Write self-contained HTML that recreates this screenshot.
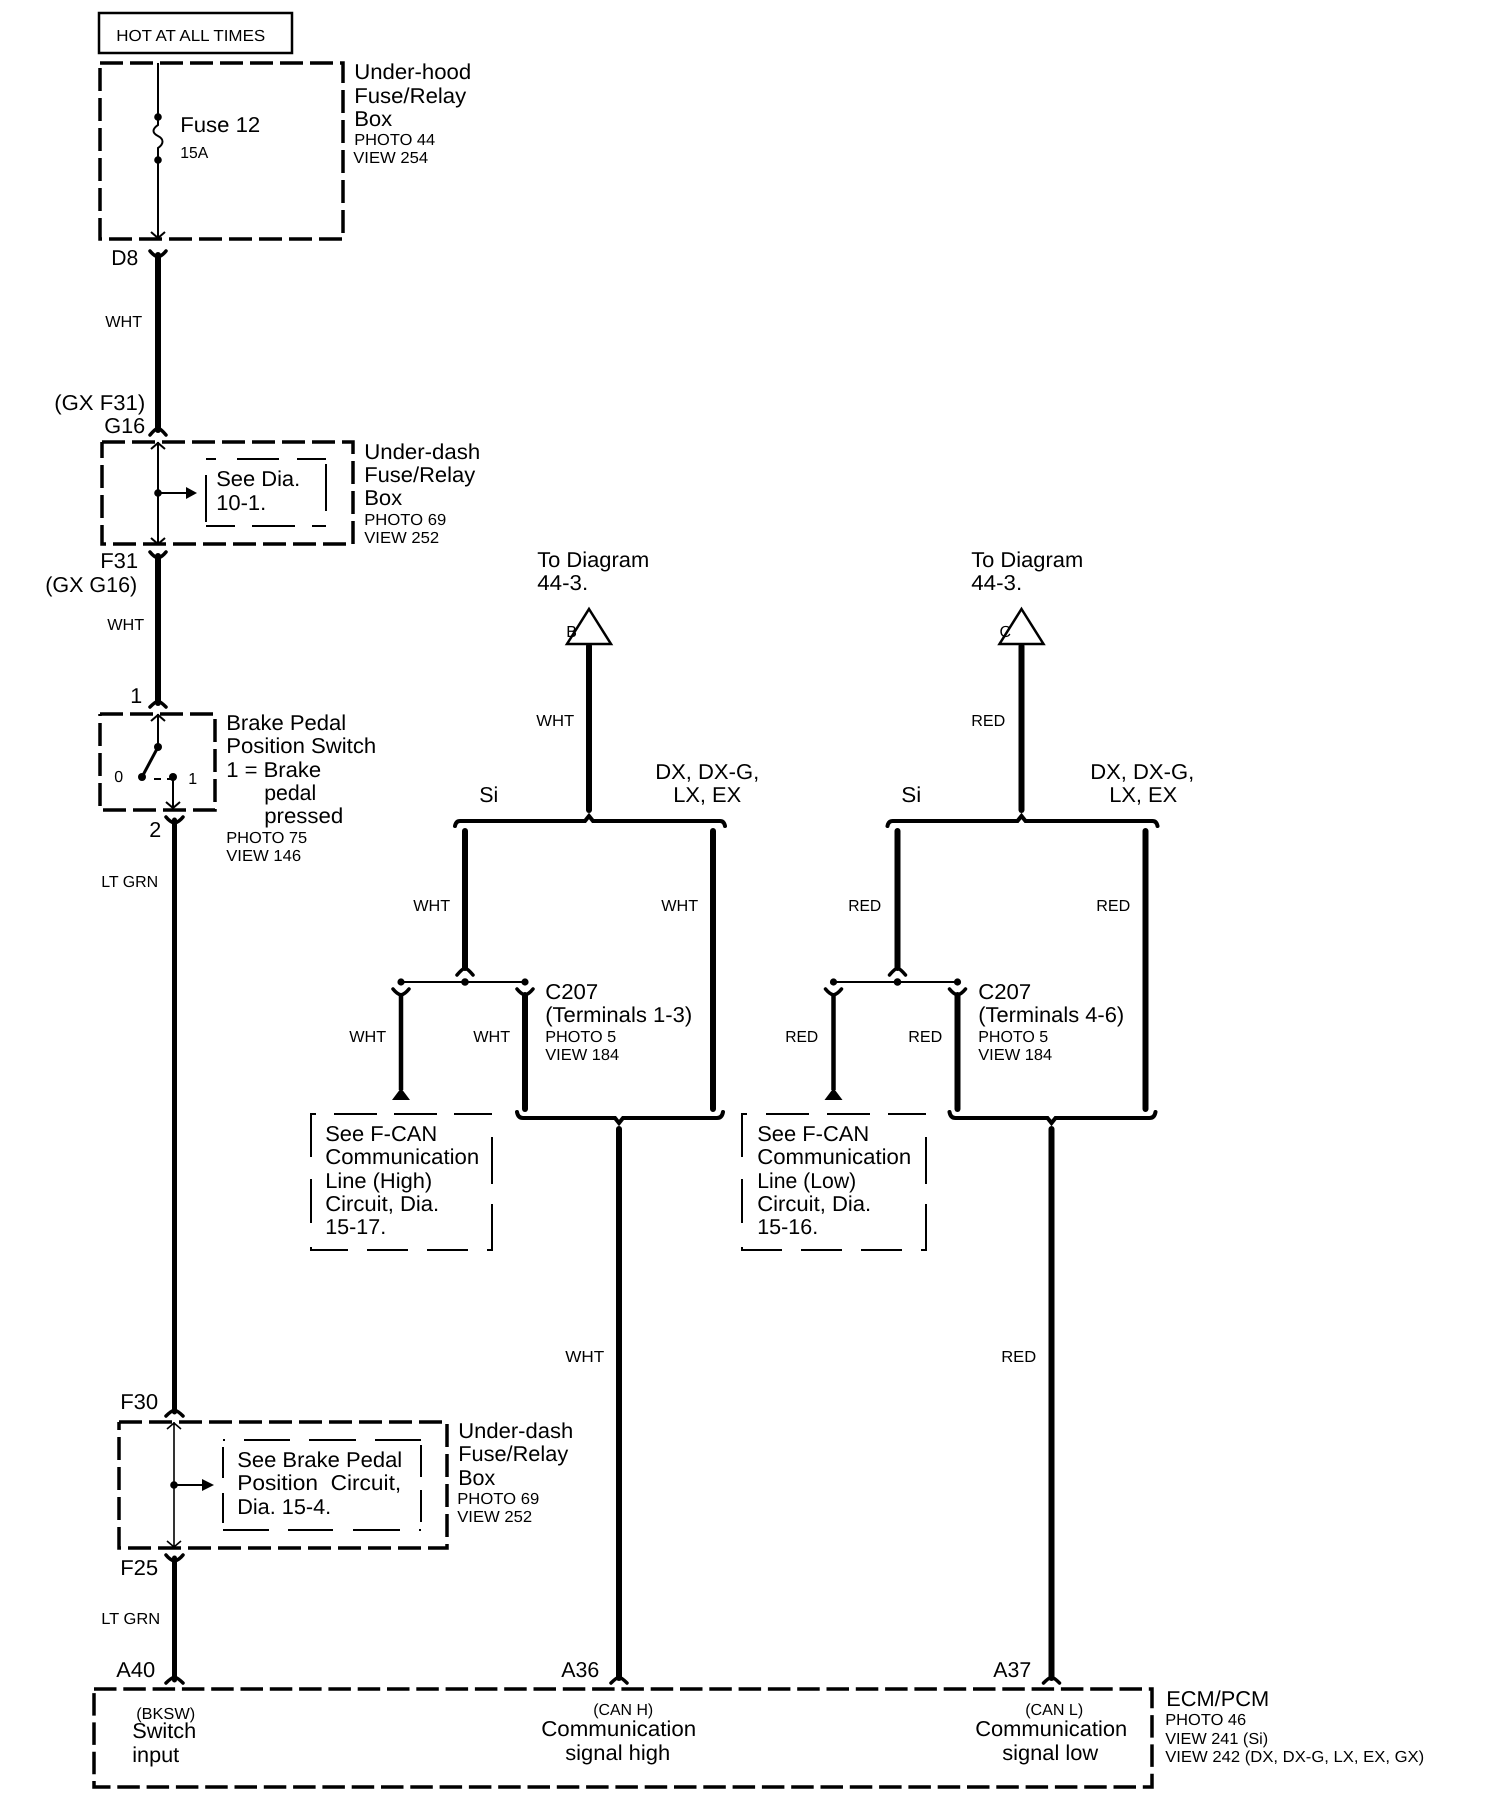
<!DOCTYPE html>
<html><head><meta charset="utf-8"><style>
html,body{margin:0;padding:0;background:#fff}
svg{display:block}
text{font-family:"Liberation Sans",sans-serif;fill:#000;text-rendering:geometricPrecision;transform:translateX(-0.8px)}
.b{font-size:21.5px}.s{font-size:16px}
.d{fill:none;stroke:#000;stroke-width:3.5;stroke-dasharray:23 7}
.i{fill:none;stroke:#000;stroke-width:2}
.t{fill:none;stroke:#000;stroke-width:2}
.w{fill:none;stroke:#000;stroke-width:6;stroke-linecap:round}
.f{fill:none;stroke:#000;stroke-width:3.5;stroke-linecap:round}
</style></head><body>
<svg width="1504" height="1808" viewBox="0 0 1504 1808" xmlns="http://www.w3.org/2000/svg">
<rect width="1504" height="1808" fill="#fff"/>
<rect x="99" y="13" width="193" height="40" fill="none" stroke="#000" stroke-width="2.5"/>
<text class="s" x="117" y="41" font-size="17" textLength="149" lengthAdjust="spacingAndGlyphs">HOT AT ALL TIMES</text>
<path class="d" d="M100 63H343V239H100V63"/>
<path class="t" d="M158 63V117M158 160V237M158 117v8c-6 4-6 8 0 11c6 3 6 8 0 12v12M151 232L158 238L165 232"/>
<circle cx="158" cy="117" r="3.8"/><circle cx="158" cy="160" r="3.8"/>
<text class="b" x="181" y="132" textLength="80" lengthAdjust="spacingAndGlyphs">Fuse 12</text>
<text class="s" x="181" y="158" textLength="28" lengthAdjust="spacingAndGlyphs">15A</text>
<text class="b" x="355" y="79" textLength="117" lengthAdjust="spacingAndGlyphs">Under-hood</text>
<text class="b" x="355" y="103" textLength="112" lengthAdjust="spacingAndGlyphs">Fuse/Relay</text>
<text class="b" x="355" y="126" textLength="38" lengthAdjust="spacingAndGlyphs">Box</text>
<text class="s" x="355" y="145" textLength="81" lengthAdjust="spacingAndGlyphs">PHOTO 44</text>
<text class="s" x="354" y="163" textLength="75" lengthAdjust="spacingAndGlyphs">VIEW 254</text>

<path class="w" d="M158 255V430"/>
<path class="f" d="M150 251Q154 256 158 257Q162 256 166 251M150 435Q155 429 158 428Q161 429 166 435"/>
<text class="b" x="112" y="265" textLength="27" lengthAdjust="spacingAndGlyphs">D8</text>
<text class="s" x="106" y="327" textLength="37" lengthAdjust="spacingAndGlyphs">WHT</text>
<text class="b" x="55" y="410" textLength="91" lengthAdjust="spacingAndGlyphs">(GX F31)</text>
<text class="b" x="105" y="433" textLength="41" lengthAdjust="spacingAndGlyphs">G16</text>

<path class="d" d="M102 442H353V544H102V442"/>
<path class="t" d="M158 442V544M151 449L158 443L165 449M151 538L158 544L165 538M158 493H187"/>
<circle cx="158" cy="493" r="3.8"/><path d="M186 487L197 493L186 499Z"/>
<path class="i" d="M206 459H216M237 459H279M297 459H326M326 464V511M206 475V522M206 526H235M252 526H295M312 526H326"/>
<text class="b" x="217" y="486" textLength="84" lengthAdjust="spacingAndGlyphs">See Dia.</text>
<text class="b" x="217" y="510" textLength="50" lengthAdjust="spacingAndGlyphs">10-1.</text>
<text class="b" x="365" y="459" textLength="116" lengthAdjust="spacingAndGlyphs">Under-dash</text>
<text class="b" x="365" y="482" textLength="111" lengthAdjust="spacingAndGlyphs">Fuse/Relay</text>
<text class="b" x="365" y="505" textLength="38" lengthAdjust="spacingAndGlyphs">Box</text>
<text class="s" x="365" y="525" textLength="82" lengthAdjust="spacingAndGlyphs">PHOTO 69</text>
<text class="s" x="365" y="543" textLength="75" lengthAdjust="spacingAndGlyphs">VIEW 252</text>

<path class="w" d="M158 556V703"/>
<path class="f" d="M150 552Q154 557 158 558Q162 557 166 552M150 707Q155 702 158 701Q161 702 166 707"/>
<text class="b" x="101" y="568" textLength="38" lengthAdjust="spacingAndGlyphs">F31</text>
<text class="b" x="46" y="592" textLength="92" lengthAdjust="spacingAndGlyphs">(GX G16)</text>
<text class="s" x="108" y="630" textLength="37" lengthAdjust="spacingAndGlyphs">WHT</text>
<text class="b" x="131" y="703">1</text>

<path class="d" d="M100 714H215V810H100V714"/>
<path class="t" d="M158 714V747M151 721L158 715L165 721M173 777V808M166 802L173 808L180 802"/>
<path d="M158 747L142 777" stroke="#000" stroke-width="3" fill="none"/>
<path d="M154 779H161M167 779H171" stroke="#000" stroke-width="2" fill="none"/>
<circle cx="158" cy="747" r="4"/><circle cx="142" cy="777" r="4"/><circle cx="173" cy="777" r="4"/>
<text class="s" x="115" y="782">0</text>
<text class="s" x="189" y="784">1</text>
<text class="b" x="227" y="730" textLength="120" lengthAdjust="spacingAndGlyphs">Brake Pedal</text>
<text class="b" x="227" y="753" textLength="150" lengthAdjust="spacingAndGlyphs">Position Switch</text>
<text class="b" x="227" y="777" textLength="95" lengthAdjust="spacingAndGlyphs">1 = Brake</text>
<text class="b" x="265" y="800" textLength="52" lengthAdjust="spacingAndGlyphs">pedal</text>
<text class="b" x="265" y="823" textLength="79" lengthAdjust="spacingAndGlyphs">pressed</text>
<text class="s" x="227" y="843" textLength="81" lengthAdjust="spacingAndGlyphs">PHOTO 75</text>
<text class="s" x="227" y="861" textLength="75" lengthAdjust="spacingAndGlyphs">VIEW 146</text>
<text class="b" x="150" y="837">2</text>

<path class="w" style="stroke-width:5" d="M174.5 820V1412"/>
<path class="f" d="M166 817Q170 822 174.5 823Q179 822 183 817M166 1416Q171 1411 174.5 1410Q178 1411 183 1416"/>
<text class="s" x="102" y="887" textLength="57" lengthAdjust="spacingAndGlyphs">LT GRN</text>
<text class="b" x="121" y="1409" textLength="38" lengthAdjust="spacingAndGlyphs">F30</text>

<path class="d" d="M119 1422H447V1548H119V1422"/>
<path class="t" style="stroke-width:1.6" d="M174 1422V1548M167 1429L174 1423L181 1429M167 1541L174 1547L181 1541"/>
<path class="t" d="M174 1485H203"/>
<circle cx="174" cy="1485" r="3.8"/><path d="M202 1479L214 1485L202 1491Z"/>
<path class="i" d="M223 1440H225M244 1440H290M309 1440H356M375 1440H421M421 1445V1477M421 1490V1522M223 1447V1478M223 1493V1523M223 1530H269M288 1530H333M353 1530H400M419 1530H421"/>
<text class="b" x="238" y="1467" textLength="165" lengthAdjust="spacingAndGlyphs">See Brake Pedal</text>
<text class="b" x="238" y="1490" textLength="164" lengthAdjust="spacingAndGlyphs" xml:space="preserve">Position  Circuit,</text>
<text class="b" x="238" y="1514" textLength="94" lengthAdjust="spacingAndGlyphs">Dia. 15-4.</text>
<text class="b" x="459" y="1438" textLength="115" lengthAdjust="spacingAndGlyphs">Under-dash</text>
<text class="b" x="459" y="1461" textLength="110" lengthAdjust="spacingAndGlyphs">Fuse/Relay</text>
<text class="b" x="459" y="1485" textLength="37" lengthAdjust="spacingAndGlyphs">Box</text>
<text class="s" x="458" y="1504" textLength="82" lengthAdjust="spacingAndGlyphs">PHOTO 69</text>
<text class="s" x="458" y="1522" textLength="75" lengthAdjust="spacingAndGlyphs">VIEW 252</text>

<path class="w" style="stroke-width:5" d="M174.5 1558V1680"/>
<path class="f" d="M166 1555Q170 1560 174.5 1561Q179 1560 183 1555M166 1683Q171 1678 174.5 1677Q178 1678 183 1683"/>
<text class="b" x="121" y="1575" textLength="38" lengthAdjust="spacingAndGlyphs">F25</text>
<text class="s" x="102" y="1624" textLength="59" lengthAdjust="spacingAndGlyphs">LT GRN</text>
<text class="b" x="117" y="1677" textLength="39" lengthAdjust="spacingAndGlyphs">A40</text>
<text class="b" x="562" y="1677" textLength="38" lengthAdjust="spacingAndGlyphs">A36</text>
<text class="b" x="994" y="1677" textLength="38" lengthAdjust="spacingAndGlyphs">A37</text>

<path class="d" style="stroke-dasharray:22.5 6.8" d="M94 1689H1152V1787H94V1689"/>
<text class="s" x="137" y="1719" textLength="59" lengthAdjust="spacingAndGlyphs">(BKSW)</text>
<text class="b" x="133" y="1738" textLength="64" lengthAdjust="spacingAndGlyphs">Switch</text>
<text class="b" x="133" y="1762" textLength="47" lengthAdjust="spacingAndGlyphs">input</text>
<text class="s" x="594" y="1715" textLength="60" lengthAdjust="spacingAndGlyphs">(CAN H)</text>
<text class="b" x="542" y="1736" textLength="155" lengthAdjust="spacingAndGlyphs">Communication</text>
<text class="b" x="566" y="1760" textLength="105" lengthAdjust="spacingAndGlyphs">signal high</text>
<text class="s" x="1026" y="1715" textLength="58" lengthAdjust="spacingAndGlyphs">(CAN L)</text>
<text class="b" x="976" y="1736" textLength="152" lengthAdjust="spacingAndGlyphs">Communication</text>
<text class="b" x="1003" y="1760" textLength="96" lengthAdjust="spacingAndGlyphs">signal low</text>
<text class="b" x="1167" y="1706" textLength="103" lengthAdjust="spacingAndGlyphs">ECM/PCM</text>
<text class="s" x="1166" y="1725" textLength="81" lengthAdjust="spacingAndGlyphs">PHOTO 46</text>
<text class="s" x="1166" y="1744" textLength="103" lengthAdjust="spacingAndGlyphs">VIEW 241 (Si)</text>
<text class="s" x="1166" y="1762" textLength="259" lengthAdjust="spacingAndGlyphs">VIEW 242 (DX, DX-G, LX, EX, GX)</text>

<g>
<text class="s" x="567" y="637">B</text>
<path d="M589 609L611 644H567Z" fill="none" stroke="#000" stroke-width="2.5"/>
<path class="w" d="M589 646V810"/>
<path class="f" style="stroke-width:4" d="M455 826Q456 821 460 821H585L589 816L593 821H720Q724 821 725 826"/>
<path class="w" d="M465 831V968M713 831V1109"/>
<path class="f" d="M457 975Q462 969 465 968Q468 969 473 975"/>
<path class="t" d="M401 982H525"/>
<circle cx="401" cy="982" r="3.6"/><circle cx="465" cy="982" r="3.8"/><circle cx="525" cy="982" r="3.6"/>
<path class="f" d="M393 989Q397 994 401 995Q405 994 409 989M517 989Q521 994 525 995Q529 994 533 989"/>
<path d="M401 993V1090" stroke="#000" stroke-width="4.5" fill="none"/>
<path d="M392 1100L401 1088L410 1100Z"/>
<path class="w" d="M525 995V1109"/>
<path class="f" style="stroke-width:4" d="M517 1112Q518 1118 523 1118H615L619 1123L623 1118H717Q722 1118 723 1112"/>
<path class="w" d="M619 1129V1678"/>
<path class="f" d="M611 1683Q616 1678 619 1677Q622 1678 627 1683"/>
</g>
<path class="i" d="M311 1157V1114H316M334 1114H377M394 1114H437M454 1114H492M492 1137V1184M492 1204V1250H487M468 1250H427M408 1250H367M348 1250H311V1247M311 1223V1179"/>
<g transform="translate(432.5 0)">
<text class="s" x="567" y="637" style="transform:none">C</text>
<path d="M589 609L611 644H567Z" fill="none" stroke="#000" stroke-width="2.5"/>
<path class="w" d="M589 646V810"/>
<path class="f" style="stroke-width:4" d="M455 826Q456 821 460 821H585L589 816L593 821H720Q724 821 725 826"/>
<path class="w" d="M465 831V968M713 831V1109"/>
<path class="f" d="M457 975Q462 969 465 968Q468 969 473 975"/>
<path class="t" d="M401 982H525"/>
<circle cx="401" cy="982" r="3.6"/><circle cx="465" cy="982" r="3.8"/><circle cx="525" cy="982" r="3.6"/>
<path class="f" d="M393 989Q397 994 401 995Q405 994 409 989M517 989Q521 994 525 995Q529 994 533 989"/>
<path d="M401 993V1090" stroke="#000" stroke-width="4.5" fill="none"/>
<path d="M392 1100L401 1088L410 1100Z"/>
<path class="w" d="M525 995V1109"/>
<path class="f" style="stroke-width:4" d="M517 1112Q518 1118 523 1118H615L619 1123L623 1118H717Q722 1118 723 1112"/>
<path class="w" d="M619 1129V1678"/>
<path class="f" d="M611 1683Q616 1678 619 1677Q622 1678 627 1683"/>
</g>
<path class="i" d="M742 1157V1114H747M766 1114H809M827 1114H870M888 1114H926M926 1137V1184M926 1204V1250H921M902 1250H861M842 1250H801M782 1250H742V1247M742 1223V1179"/>

<text class="b" x="538" y="567" textLength="112" lengthAdjust="spacingAndGlyphs">To Diagram</text>
<text class="b" x="538" y="590" textLength="51" lengthAdjust="spacingAndGlyphs">44-3.</text>
<text class="s" x="537" y="726" textLength="38" lengthAdjust="spacingAndGlyphs">WHT</text>
<text class="b" x="480" y="802" textLength="19" lengthAdjust="spacingAndGlyphs">Si</text>
<text class="b" x="656" y="779" textLength="104" lengthAdjust="spacingAndGlyphs">DX, DX-G,</text>
<text class="b" x="674" y="802" textLength="68" lengthAdjust="spacingAndGlyphs">LX, EX</text>
<text class="s" x="414" y="911" textLength="37" lengthAdjust="spacingAndGlyphs">WHT</text>
<text class="s" x="662" y="911" textLength="37" lengthAdjust="spacingAndGlyphs">WHT</text>
<text class="s" x="350" y="1042" textLength="37" lengthAdjust="spacingAndGlyphs">WHT</text>
<text class="s" x="474" y="1042" textLength="37" lengthAdjust="spacingAndGlyphs">WHT</text>
<text class="b" x="546" y="999" textLength="53" lengthAdjust="spacingAndGlyphs">C207</text>
<text class="b" x="546" y="1022" textLength="147" lengthAdjust="spacingAndGlyphs">(Terminals 1-3)</text>
<text class="s" x="546" y="1042" textLength="71" lengthAdjust="spacingAndGlyphs">PHOTO 5</text>
<text class="s" x="546" y="1060" textLength="74" lengthAdjust="spacingAndGlyphs">VIEW 184</text>
<text class="b" x="326" y="1141" textLength="112" lengthAdjust="spacingAndGlyphs">See F-CAN</text>
<text class="b" x="326" y="1164" textLength="154" lengthAdjust="spacingAndGlyphs">Communication</text>
<text class="b" x="326" y="1188" textLength="107" lengthAdjust="spacingAndGlyphs">Line (High)</text>
<text class="b" x="326" y="1211" textLength="114" lengthAdjust="spacingAndGlyphs">Circuit, Dia.</text>
<text class="b" x="326" y="1234" textLength="61" lengthAdjust="spacingAndGlyphs">15-17.</text>
<text class="s" x="566" y="1362" textLength="39" lengthAdjust="spacingAndGlyphs">WHT</text>

<text class="b" x="972" y="567" textLength="112" lengthAdjust="spacingAndGlyphs">To Diagram</text>
<text class="b" x="972" y="590" textLength="51" lengthAdjust="spacingAndGlyphs">44-3.</text>
<text class="s" x="972" y="726" textLength="34" lengthAdjust="spacingAndGlyphs">RED</text>
<text class="b" x="902" y="802" textLength="20" lengthAdjust="spacingAndGlyphs">Si</text>
<text class="b" x="1091" y="779" textLength="104" lengthAdjust="spacingAndGlyphs">DX, DX-G,</text>
<text class="b" x="1110" y="802" textLength="68" lengthAdjust="spacingAndGlyphs">LX, EX</text>
<text class="s" x="849" y="911" textLength="33" lengthAdjust="spacingAndGlyphs">RED</text>
<text class="s" x="1097" y="911" textLength="34" lengthAdjust="spacingAndGlyphs">RED</text>
<text class="s" x="786" y="1042" textLength="33" lengthAdjust="spacingAndGlyphs">RED</text>
<text class="s" x="909" y="1042" textLength="34" lengthAdjust="spacingAndGlyphs">RED</text>
<text class="b" x="979" y="999" textLength="53" lengthAdjust="spacingAndGlyphs">C207</text>
<text class="b" x="979" y="1022" textLength="146" lengthAdjust="spacingAndGlyphs">(Terminals 4-6)</text>
<text class="s" x="979" y="1042" textLength="70" lengthAdjust="spacingAndGlyphs">PHOTO 5</text>
<text class="s" x="979" y="1060" textLength="74" lengthAdjust="spacingAndGlyphs">VIEW 184</text>
<text class="b" x="758" y="1141" textLength="112" lengthAdjust="spacingAndGlyphs">See F-CAN</text>
<text class="b" x="758" y="1164" textLength="154" lengthAdjust="spacingAndGlyphs">Communication</text>
<text class="b" x="758" y="1188" textLength="99" lengthAdjust="spacingAndGlyphs">Line (Low)</text>
<text class="b" x="758" y="1211" textLength="114" lengthAdjust="spacingAndGlyphs">Circuit, Dia.</text>
<text class="b" x="758" y="1234" textLength="61" lengthAdjust="spacingAndGlyphs">15-16.</text>
<text class="s" x="1002" y="1362" textLength="35" lengthAdjust="spacingAndGlyphs">RED</text>
</svg>
</body></html>
